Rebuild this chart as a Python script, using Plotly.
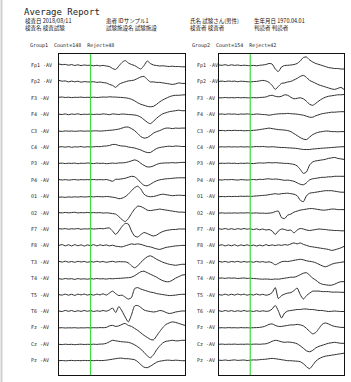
import plotly.graph_objects as go

# ---------------- data ----------------
time_ms = list(range(-100, 301, 10))
channels = ["Fp1", "Fp2", "F3", "F4", "C3", "C4", "P3", "P4", "O1", "O2",
            "F7", "F8", "T3", "T4", "T5", "T6", "Fz", "Cz", "Pz"]

group_titles = ["Group1  Count=148  Reject=48", "Group2  Count=154  Reject=42"]

header_title = "Average Report"
header_col1 = ["検査日 2018/08/11", "検査名 検査試験"]
header_col2 = ["患者 IDサンプル1", "試験施設名 試験施設"]
header_col3 = ["氏名 試験さん(男性)", "検査者 検査者"]
header_col4 = ["生年月日 1970.04.01", "判読者 判読者"]

# Group1 averaged waveforms (µV, upward positive)
g1_fp1 = [1.0, 0.3, 0.6, -0.2, 0.4, -0.5, 0.2, -0.6, 0.0, -0.4,
          -0.2, -0.8, -0.3, -0.9, -0.4, -1.0, -1.5, -3.5, -4.5, -1.0,
          2.5, 4.5, 2.0, 0.5, -0.5, -2.5, -4.0, -0.5, 4.0, 1.5,
          0.0, -0.5, -1.0, -0.8, -1.2, -1.5, -1.2, -1.6, -1.5, -1.8,
          -1.8]
g1_fp2 = [1.0, 0.2, 0.5, -0.5, 0.3, -0.4, 0.2, -0.8, -0.2, -0.5,
          -0.6, -0.3, -1.0, -0.6, -1.2, -1.5, -3.0, -4.0, -6.0, -3.0,
          -1.5, -0.5, 0.5, 0.8, 1.5, 3.0, 4.5, 5.0, 2.0, -0.5,
          -0.5, -1.0, -1.0, -1.5, -2.0, -2.5, -3.0, -2.5, -1.5, -2.0,
          -2.0]
g1_f3 = [0.5, 0.8, 0.3, 0.6, 0.2, 0.5, 0.4, 0.7, 0.3, 0.5,
         0.4, 0.6, 0.3, 0.5, 0.8, 0.6, 1.0, 0.8, 0.7, 0.5,
         0.3, 0.0, -0.5, -1.5, -3.0, -5.0, -6.5, -7.5, -8.5, -9.0,
         -8.5, -6.5, -4.0, -2.0, -0.5, 1.0, 2.0, 2.5, 2.5, 2.8,
         3.0]
g1_f4 = [0.0, -0.3, 0.3, -0.5, 0.2, -0.2, 0.4, -0.4, 0.0, -0.2,
         0.2, -0.3, 0.0, -0.2, 0.3, 0.0, -0.5, 0.3, 0.0, -0.3,
         0.2, 0.0, -0.3, -0.5, -0.8, -1.5, -3.0, -5.5, -8.0, -9.5,
         -7.0, -4.0, -1.5, 0.5, 1.5, 2.5, 3.0, 3.5, 4.0, 3.5,
         3.5]
g1_c3 = [-0.5, -0.8, -0.3, -0.6, -0.4, -0.7, -0.5, -0.3, -0.6, -0.4,
         -0.5, -0.3, -0.2, -0.5, -0.3, 0.0, 0.3, 0.5, 1.0, 1.5,
         2.5, 3.5, 3.5, 2.0, 0.0, -3.0, -6.0, -7.5, -7.0, -5.0,
         -2.5, -1.0, 0.0, 1.5, 2.5, 2.5, 2.0, 2.5, 2.3, 2.5,
         2.5]
g1_c4 = [0.0, 0.3, -0.2, 0.4, -0.3, 0.2, 0.0, 0.5, -0.2, 0.3,
         0.0, 0.2, 0.5, 0.3, 0.8, 1.0, 1.5, 2.5, 2.5, 1.5,
         1.0, 0.8, 0.0, -0.5, -1.0, -2.0, -3.0, -4.5, -5.5, -5.5,
         -3.5, -1.5, -0.5, 0.0, 0.5, 0.8, 0.5, 1.0, 0.8, 0.5,
         0.5]
g1_p3 = [0.0, 0.3, -0.2, 0.2, 0.0, 0.3, -0.3, 0.2, 0.0, 0.4,
         0.2, -0.2, 0.3, 0.0, 0.2, -0.3, 0.0, 0.3, 0.0, 0.5,
         0.5, 0.8, 1.5, 2.5, 3.5, 2.5, 0.0, -2.0, -3.5, -3.5,
         -2.5, -1.0, 0.0, 0.3, 0.5, 0.5, 0.8, 0.5, 0.8, 1.0,
         1.0]
g1_p4 = [0.3, -0.2, 0.2, -0.3, 0.0, 0.3, -0.2, 0.2, 0.0, 0.2,
         0.0, 0.3, 0.0, 0.2, 0.0, 0.3, -0.5, -1.5, 0.5, 0.5,
         1.0, 1.5, 2.5, 3.5, 3.0, 0.5, -3.0, -5.5, -6.0, -4.5,
         -2.5, -1.0, 0.0, 0.5, 1.0, 1.2, 1.5, 1.8, 2.0, 2.0,
         2.0]
g1_o1 = [-1.0, -0.8, -1.2, -0.7, -1.0, -0.6, -0.9, -0.5, -0.8, -0.6,
         -0.4, -0.7, -0.3, -0.5, -0.6, -0.3, -0.5, -1.0, -1.5, -2.5,
         -2.0, -0.5, 2.0, 5.5, 8.5, 10.0, 7.0, 2.0, 0.0, -0.5,
         -0.3, 0.5, 1.5, 2.0, 1.5, 1.0, 0.5, 0.8, 1.0, 0.8,
         0.8]
g1_o2 = [0.0, -0.3, 0.2, -0.2, 0.0, 0.3, -0.3, 0.0, -0.2, 0.2,
         -0.3, 0.0, -0.2, 0.0, -0.5, -0.2, -0.5, -1.0, -1.5, -4.0,
         -7.0, -9.0, -6.0, -1.0, 3.5, 6.5, 6.0, 4.5, 2.5, 2.0,
         2.5, 3.0, 3.5, 3.0, 2.5, 2.0, 1.5, 1.0, 0.5, 0.5,
         0.3]
g1_f7 = [0.3, 0.0, 0.4, -0.2, 0.2, 0.0, 0.5, -0.3, 0.2, 0.0,
         0.3, 0.0, 0.2, 0.5, 0.2, 0.8, 1.0, -2.0, -5.5, -2.0,
         2.5, 5.5, 5.0, -2.0, -7.0, -8.0, -5.5, -3.5, -4.5, -6.0,
         -7.0, -6.0, -4.0, -2.5, -1.5, -1.0, -0.5, -0.5, 0.0, 0.0,
         0.0]
g1_f8 = [0.0, 0.8, -0.5, 0.7, -0.6, 0.8, -0.4, 0.6, -0.7, 0.5,
         -0.3, 0.8, -0.5, 0.6, -0.2, 0.5, -0.5, 0.2, -0.8, -1.2,
         -1.5, -0.5, 0.5, 1.5, 1.0, 1.5, 1.0, 0.0, -1.0, -1.5,
         -2.5, -3.5, -4.0, -3.0, -2.0, -1.5, -1.0, -0.5, -0.3, 0.0,
         0.0]
g1_t3 = [0.5, -0.3, 0.6, -0.4, 0.3, -0.5, 0.5, -0.2, 0.4, -0.5,
         0.2, -0.3, 0.5, -0.2, 0.3, -0.5, 0.0, 0.5, -0.3, 0.2,
         0.0, 0.0, -1.0, -4.0, -6.0, -4.0, -0.5, 2.5, 5.0, 6.0,
         4.5, 2.5, 1.0, -0.5, -1.5, -2.5, -3.0, -3.5, -3.0, -2.5,
         -2.5]
g1_t4 = [-0.5, -1.0, -0.3, -0.8, -0.5, -1.2, -0.4, -0.9, -0.6, -1.0,
         -0.5, -0.8, -0.3, -0.7, -0.5, -0.9, -0.4, -0.6, -0.3, -0.2,
         0.0, 0.3, 0.5, 1.0, 2.5, 4.5, 6.5, 7.0, 5.5, 4.0,
         2.5, 1.0, -1.0, -2.5, -3.5, -3.5, -2.0, 0.0, 1.5, 3.0,
         3.5]
g1_t5 = [0.0, -0.5, 0.5, -0.6, 0.3, -0.8, 0.5, -0.3, 0.6, -0.5,
         0.3, -0.6, 0.5, -0.3, 0.8, -0.5, 1.5, 3.5, 1.0, -1.0,
         -0.5, -2.5, -4.5, -3.0, 6.0, 7.0, 5.5, 4.5, 3.5, 2.5,
         2.0, 1.0, 0.5, 0.0, -0.5, -1.0, -0.8, -0.5, 0.0, 0.3,
         0.3]
g1_t6 = [0.0, -0.5, 0.6, -0.3, 0.5, -0.6, 0.3, -0.4, 0.5, -0.3,
         0.4, -0.5, 0.2, -0.3, 0.5, -0.2, 1.0, 3.0, -1.5, 4.5,
         0.0, -6.0, -11.0, -4.0, 5.0, 5.5, 3.5, 1.0, 0.0, -0.5,
         -1.0, -0.5, 0.5, 0.0, -1.5, -2.5, -2.0, -1.0, -0.5, 0.0,
         0.0]
g1_fz = [-0.5, -0.3, -0.6, -0.4, -0.5, -0.3, -0.6, -0.4, -0.5, -0.3,
         -0.5, -0.3, -0.4, -0.2, -0.3, 0.0, 1.5, 2.0, 1.0, 1.5,
         3.0, 4.0, 2.0, 1.0, -1.0, -3.0, -5.5, -8.0, -10.0, -12.0,
         -12.5, -8.5, -4.0, 0.0, 3.0, 4.5, 5.5, 5.0, 4.0, 3.0,
         2.0]
g1_cz = [-0.5, -0.8, -0.4, -0.7, -0.5, -0.9, -0.6, -0.4, -0.7, -0.5,
         -0.6, -0.4, -0.6, -0.3, -0.2, 0.5, 2.0, 3.5, 3.0, 2.5,
         2.0, 1.8, 1.5, 0.5, -1.0, -3.0, -5.5, -8.5, -12.0, -14.0,
         -11.0, -6.0, -2.0, 1.0, 2.5, 3.0, 3.5, 3.0, 3.0, 3.5,
         3.5]
g1_pz = [-0.5, -0.3, -0.6, -0.4, -0.2, -0.5, -0.3, -0.5, -0.2, -0.4,
         -0.3, -0.5, -0.2, -0.4, -0.3, 0.0, 0.5, 1.0, 1.5, 2.0,
         2.0, 1.5, 1.5, 1.0, 0.5, -1.5, -4.5, -7.0, -7.5, -6.0,
         -4.0, -2.0, -1.0, -0.5, 0.0, 0.0, -0.3, 0.0, -0.2, -0.5,
         -0.5]

# Group2 averaged waveforms (µV, upward positive)
g2_fp1 = [0.0, -0.3, 0.3, -0.5, 0.2, -0.4, 0.0, -0.6, -0.2, -0.5,
          -0.7, -0.4, -0.8, -0.3, 0.0, 0.5, 1.5, 1.0, -4.0, -6.5,
          -2.0, -0.5, -0.3, 0.0, 0.5, 1.5, 4.0, 7.5, 8.0, 5.0,
          3.0, 1.5, 0.5, -0.5, -1.5, -2.5, -3.0, -3.5, -3.5, -4.0,
          -4.0]
g2_fp2 = [0.0, 0.3, -0.2, 0.4, 0.0, 0.3, -0.3, 0.2, 0.0, -0.3,
          -0.5, -0.2, 0.0, 0.5, 1.0, 0.5, -1.0, -4.0, -8.0, -5.0,
          -2.0, -1.5, -0.5, 0.0, 1.5, 3.0, 5.0, 6.0, 4.0, 1.0,
          -0.5, -2.0, -3.5, -4.5, -5.5, -6.5, -7.5, -8.0, -7.0, -6.0,
          -8.0]
g2_f3 = [0.0, 0.0, 0.3, 0.0, 0.2, 0.0, 0.3, 0.0, 0.2, 0.0,
         0.0, 0.2, 0.0, 0.3, 0.5, 0.8, 2.0, 2.5, 1.5, 1.0,
         1.5, 3.0, 2.5, 0.5, -1.0, -0.5, 0.0, -1.0, -3.5, -6.5,
         -7.5, -5.5, -3.0, -1.0, 0.5, 1.5, 2.0, 2.5, 3.0, 3.0,
         3.3]
g2_f4 = [0.0, 0.2, -0.2, 0.3, 0.0, 0.2, -0.3, 0.2, 0.0, 0.3,
         0.0, -0.2, 0.2, 0.0, -0.3, -0.5, -1.0, -0.5, 0.0, 0.3,
         0.5, 0.5, 0.8, 0.5, 0.3, 0.0, -0.5, -1.0, -2.0, -3.0,
         -3.0, -1.5, -0.5, 0.5, 1.0, 1.5, 2.0, 2.0, 2.3, 2.5,
         2.5]
g2_c3 = [0.0, 0.2, -0.2, 0.2, 0.0, 0.3, 0.0, 0.2, -0.2, 0.0,
         0.0, 0.3, 0.5, 1.0, 1.5, 2.0, 2.5, 2.0, 1.5, 1.0,
         0.8, 0.5, 0.0, -1.0, -3.0, -5.0, -7.0, -8.5, -9.0, -6.5,
         -4.0, -2.5, -1.5, -1.0, -0.5, -0.5, -1.0, -1.0, -1.2, -1.0,
         -1.0]
g2_c4 = [0.0, 0.2, 0.0, 0.3, 0.0, 0.2, 0.0, 0.3, 0.0, 0.2,
         0.0, 0.2, 0.5, 0.3, 0.5, 0.2, 0.0, 0.3, 0.0, -0.3,
         -0.5, -0.5, -0.8, -1.0, -1.2, -1.5, -2.0, -2.5, -2.5, -2.5,
         -2.0, -1.8, -1.5, -1.2, -1.0, -0.8, -0.5, -0.3, 0.0, 0.2,
         0.3]
g2_p3 = [0.0, 0.2, 0.0, 0.3, 0.0, 0.2, -0.2, 0.2, 0.0, 0.3,
         0.0, -0.2, 0.2, 0.5, 0.3, 0.5, 0.8, 0.5, 0.8, 0.5,
         0.3, 0.0, 0.0, -0.5, -1.0, -2.5, -6.0, -10.0, -8.5, -1.5,
         1.5, 2.5, 3.0, 3.5, 4.0, 5.0, 5.5, 6.0, 5.0, 4.5,
         4.0]
g2_p4 = [0.0, -0.2, 0.2, 0.0, 0.3, 0.0, -0.3, 0.2, 0.0, -0.2,
         0.0, 0.3, 0.0, 0.5, 0.3, 0.8, 1.0, 0.5, 0.8, 0.5,
         0.0, -0.5, -0.3, -0.8, -1.5, -3.0, -4.5, -5.0, -3.0, 0.0,
         1.0, 1.5, 2.0, 2.5, 2.5, 3.0, 3.0, 3.5, 3.5, 3.5,
         3.5]
g2_o1 = [-0.5, -0.3, -0.5, -0.2, -0.4, -0.2, -0.3, 0.0, -0.2, 0.0,
         -0.2, 0.0, 0.3, 0.5, 0.8, 1.0, 1.5, 2.0, 2.5, 2.0,
         2.5, 2.8, 3.0, 2.5, 2.0, 0.5, -4.0, -5.5, 0.5, 3.0,
         3.5, 4.0, 4.5, 5.0, 5.5, 5.5, 5.5, 5.0, 4.5, 4.0,
         4.0]
g2_o2 = [-0.5, -0.3, -0.6, -0.4, -0.5, -0.3, -0.5, -0.3, -0.4, -0.2,
         -0.4, -0.5, -0.3, -0.6, -0.5, -0.8, -0.5, -0.2, 1.0, 1.5,
         -5.0, -6.0, -2.5, -1.5, 0.5, 1.5, 2.5, 3.0, 3.5, 4.0,
         4.0, 3.5, 3.0, 2.5, 2.5, 3.0, 3.5, 3.5, 3.0, 3.0,
         3.0]
g2_f7 = [0.3, -0.3, 0.5, -0.4, 0.3, -0.5, 0.4, -0.3, 0.5, -0.2,
         0.3, -0.6, 0.2, -0.8, 0.0, -1.0, -0.5, -2.0, -5.5, -2.0,
         0.0, -0.5, -1.5, -1.0, -4.0, -1.0, 0.5, 0.0, -1.0, -1.5,
         -1.0, -0.5, 0.0, -0.3, -0.5, -1.0, -1.2, -1.5, -1.5, -1.8,
         -1.8]
g2_f8 = [0.0, 0.6, -0.5, 0.5, -0.4, 0.7, -0.6, 0.5, -0.3, 0.6,
         -0.5, 0.4, -0.6, 0.3, -0.5, 0.8, -0.3, 0.5, -0.2, 0.6,
         0.0, 0.8, 0.3, 1.5, 2.5, 1.5, 2.5, 1.0, 0.0, -1.0,
         -1.5, -2.0, -2.5, -3.0, -3.5, -4.0, -5.0, -4.5, -3.5, -2.5,
         -1.0]
g2_t3 = [0.5, -0.3, 0.4, -0.5, 0.3, -0.2, 0.5, -0.4, 0.3, -0.3,
         0.2, -0.5, 0.4, -0.3, 0.2, -0.5, 0.0, -1.0, -3.0, -1.5,
         0.0, 0.5, 0.3, 0.8, 1.5, 2.0, 2.5, 2.0, 1.0, 0.5,
         0.0, -1.0, -2.5, -4.0, -5.0, -4.0, -2.5, -1.5, -1.0, -0.5,
         0.0]
g2_t4 = [0.0, 0.2, -0.2, 0.3, 0.0, 0.2, -0.3, 0.0, 0.2, -0.2,
         0.0, -0.3, -0.5, -0.8, -1.0, -0.8, -1.0, -1.2, -0.8, -1.0,
         -0.5, 0.0, 0.5, 1.0, 1.0, 2.0, 3.5, 5.0, 5.5, 3.0,
         0.0, -2.0, -4.5, -6.0, -6.5, -7.0, -7.0, -6.0, -4.5, -3.5,
         -3.5]
g2_t5 = [0.0, -0.5, 0.5, -0.6, 0.4, -0.5, 0.6, -0.3, 0.5, -0.6,
         0.3, -0.5, 0.6, -0.4, 0.3, -0.6, 0.0, 2.0, 7.0, -4.0,
         -1.0, 0.5, 1.5, 2.0, 4.0, 6.5, 0.0, -4.5, -1.0, 1.5,
         3.5, 3.5, 3.5, 3.0, 3.0, 3.0, 2.5, 2.5, 2.5, 2.3,
         2.3]
g2_t6 = [0.3, -0.4, 0.5, -0.3, 0.4, -0.5, 0.3, -0.4, 0.5, -0.3,
         0.2, -0.5, 0.3, -0.4, 0.2, -0.3, 0.0, 2.0, 5.5, 0.0,
         -7.0, -2.0, 0.0, 0.5, 1.0, 1.5, 1.5, 2.0, 2.0, 1.5,
         1.5, 1.0, 0.5, 0.5, 0.0, -0.5, -0.3, 0.0, -0.3, -0.5,
         -0.5]
g2_fz = [-0.5, -0.3, -0.5, -0.2, -0.4, -0.3, -0.5, -0.2, -0.4, -0.3,
         -0.5, -0.3, -0.2, 0.0, 0.5, 1.5, 3.0, 3.5, 2.0, 1.0,
         1.0, 1.5, 2.0, 2.5, 2.5, 3.0, 2.5, 1.5, -1.0, -4.0,
         -6.5, -5.0, -1.0, 3.0, 4.5, 3.5, 2.0, 1.0, 0.5, 0.0,
         0.0]
g2_cz = [-0.5, -0.3, -0.6, -0.4, -0.5, -0.3, -0.6, -0.4, -0.5, -0.3,
         -0.5, -0.4, -0.3, -0.5, -0.2, 0.0, 1.0, 2.5, 3.5, 3.0,
         2.0, 1.5, 1.8, 1.5, 1.0, 0.0, -2.0, -4.5, -7.0, -8.0,
         -6.5, -4.0, -2.5, -1.5, -0.5, 0.5, 1.0, 1.5, 1.0, 0.5,
         0.5]
g2_pz = [0.0, -0.2, 0.2, -0.3, 0.0, 0.3, -0.2, 0.0, 0.2, -0.3,
         0.0, 0.3, 0.2, 0.5, 0.8, 1.0, 1.5, 1.8, 1.5, 1.0,
         0.5, 0.0, -0.5, -0.5, -0.8, -1.0, -1.5, -3.5, -6.5, -8.5,
         -5.0, -1.0, 1.5, 3.0, 4.0, 4.5, 5.0, 5.5, 6.0, 6.5,
         7.0]

group1 = [g1_fp1, g1_fp2, g1_f3, g1_f4, g1_c3, g1_c4, g1_p3, g1_p4, g1_o1, g1_o2,
          g1_f7, g1_f8, g1_t3, g1_t4, g1_t5, g1_t6, g1_fz, g1_cz, g1_pz]
group2 = [g2_fp1, g2_fp2, g2_f3, g2_f4, g2_c3, g2_c4, g2_p3, g2_p4, g2_o1, g2_o2,
          g2_f7, g2_f8, g2_t3, g2_t4, g2_t5, g2_t6, g2_fz, g2_cz, g2_pz]

# ---------------- layout constants (pixels) ----------------
W, H = 351, 382
ROW0, ROW_STEP = 65.0, 16.4
GAIN = 1.0
PANEL_TOP, PANEL_BOTTOM = 54, 375
PANELS = [(59, 185, 29, 28), (219, 344, 195, 190)]  # x0, x1, label x, group title x

def px(x):
    return x / W

def py(y):
    return 1 - y / H

fig = go.Figure()
mono = "DejaVu Sans Mono"
cjk = "Noto Sans CJK JP"

annotations = []
shapes = []
for p, (group, (x0, x1, lab_x, title_x)) in enumerate(zip([group1, group2], PANELS)):
    xa = "x" if p == 0 else "x2"
    ya = "y" if p == 0 else "y2"
    for i, (ch, amp) in enumerate(zip(channels, group)):
        base = ROW0 + i * ROW_STEP
        fig.add_trace(go.Scatter(
            x=time_ms, y=[base - GAIN * a for a in amp],
            mode="lines", line=dict(color="#2e2e2e", width=1, shape="spline", smoothing=0.6),
            xaxis=xa, yaxis=ya, showlegend=False, hoverinfo="skip"))
        annotations.append(dict(
            x=px(lab_x), y=base, xref="paper", yref=ya, text=f"{ch} -AV",
            showarrow=False, xanchor="left", yanchor="middle",
            font=dict(family=mono, size=5, color="#222")))
    # stimulus onset line
    shapes.append(dict(type="line", xref=xa, yref=f"{ya} domain",
                       x0=0, x1=0, y0=0, y1=1,
                       line=dict(color="#3ddc3d", width=1.2)))
    annotations.append(dict(
        x=px(title_x), y=py(46), xref="paper", yref="paper", text=group_titles[p],
        showarrow=False, xanchor="left", yanchor="middle",
        font=dict(family=mono, size=5, color="#222")))

# header
annotations.append(dict(x=px(22), y=py(12), xref="paper", yref="paper",
                        text=header_title, showarrow=False, xanchor="left",
                        yanchor="middle", font=dict(family=mono, size=9, color="#222")))
for col_x, col in zip([23, 104, 188, 252], [header_col1, header_col2, header_col3, header_col4]):
    for j, txt in enumerate(col):
        annotations.append(dict(x=px(col_x), y=py(21 + j * 7), xref="paper", yref="paper",
                                text=txt, showarrow=False, xanchor="left", yanchor="middle",
                                font=dict(family=cjk, size=5.5, color="#111")))

# left page-edge strip
shapes.append(dict(type="line", xref="paper", yref="paper", x0=px(1.5), x1=px(1.5),
                   y0=0, y1=1, line=dict(color="#cfcfcf", width=2)))

axis_common = dict(showgrid=False, zeroline=False, showticklabels=False, ticks="",
                   showline=True, mirror=True, linecolor="#111", linewidth=1)
yd = [py(PANEL_BOTTOM), py(PANEL_TOP)]
fig.update_layout(
    width=W, height=H, margin=dict(l=0, r=0, t=0, b=0),
    paper_bgcolor="white", plot_bgcolor="white",
    xaxis=dict(domain=[px(59), px(185)], range=[-100, 300], anchor="y", **axis_common),
    xaxis2=dict(domain=[px(219), px(344)], range=[-100, 300], anchor="y2", **axis_common),
    yaxis=dict(domain=yd, range=[PANEL_BOTTOM, PANEL_TOP], anchor="x", **axis_common),
    yaxis2=dict(domain=yd, range=[PANEL_BOTTOM, PANEL_TOP], anchor="x2", **axis_common),
    annotations=annotations, shapes=shapes,
)

fig.write_html("out.html", config={"displayModeBar": False, "staticPlot": True},
               post_script="document.body.style.margin='0';")
